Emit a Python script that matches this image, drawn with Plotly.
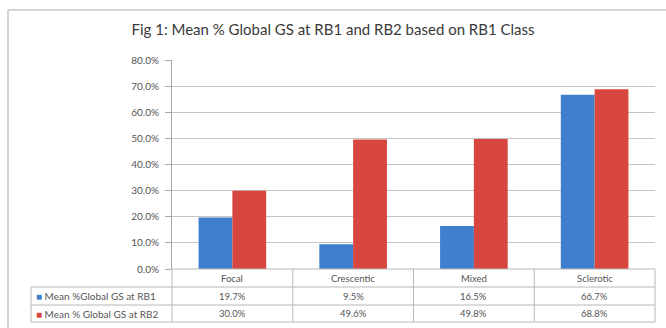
import plotly.graph_objects as go

categories = ["Focal", "Crescentic", "Mixed", "Sclerotic"]
series_names = ["Mean %Global GS at RB1", "Mean % Global GS at RB2"]
rb1_values = [0.197, 0.095, 0.165, 0.667]
rb2_values = [0.300, 0.496, 0.498, 0.688]
colors = ["#3f7fce", "#d8473f"]
title = "Fig 1: Mean % Global GS at RB1 and RB2 based on RB1 Class"

W, H = 666, 328
L, R = 172, 655
T, B = 60, 269
row_h = 18
rows_y = [B, B + row_h, B + 2 * row_h, B + 3 * row_h - 1]
leg_left = 31

def px(x):
    return (x - L) / (R - L)

def py(y):
    return (B - y) / (B - T)

fig = go.Figure()
for name, vals, col in zip(series_names, [rb1_values, rb2_values], colors):
    fig.add_trace(go.Bar(x=categories, y=vals, name=name, marker=dict(color=col, line=dict(width=0))))

font_family = "Lato, Open Sans, sans-serif"
txt_col = "#555555"
line_col = "#b8b8b8"

shapes = []
# outer chart border
shapes.append(dict(type="line", xref="paper", yref="paper", x0=px(8), x1=px(666), y0=py(10), y1=py(10),
                   line=dict(color="#c8c8c8", width=1.5)))
shapes.append(dict(type="line", xref="paper", yref="paper", x0=px(8), x1=px(8), y0=py(10), y1=py(328),
                   line=dict(color="#c8c8c8", width=1.5)))
# table horizontal lines
shapes.append(dict(type="line", xref="paper", yref="paper", x0=px(L), x1=px(R), y0=py(rows_y[0]), y1=py(rows_y[0]),
                   line=dict(color=line_col, width=1)))
for yy in rows_y[1:]:
    shapes.append(dict(type="line", xref="paper", yref="paper", x0=px(leg_left), x1=px(R), y0=py(yy), y1=py(yy),
                       line=dict(color=line_col, width=1)))
# table vertical lines
shapes.append(dict(type="line", xref="paper", yref="paper", x0=px(leg_left), x1=px(leg_left),
                   y0=py(rows_y[1]), y1=py(rows_y[3]), line=dict(color=line_col, width=1)))
n = len(categories)
for i in range(n + 1):
    xx = L + (R - L) * i / n
    shapes.append(dict(type="line", xref="paper", yref="paper", x0=px(xx), x1=px(xx),
                       y0=py(rows_y[0]), y1=py(rows_y[3]), line=dict(color=line_col, width=1)))

annotations = []
for i, c in enumerate(categories):
    annotations.append(dict(x=c, xref="x", y=py((rows_y[0] + rows_y[1]) / 2), yref="paper", text=c,
                            xanchor="center", yanchor="middle", showarrow=False,
                            font=dict(size=9.5, color=txt_col, family=font_family)))
    for r, vals in enumerate([rb1_values, rb2_values]):
        annotations.append(dict(x=c, xref="x", y=py((rows_y[r + 1] + rows_y[r + 2]) / 2), yref="paper",
                                text=f"{vals[i]*100:.1f}%", showarrow=False, xanchor="center", yanchor="middle",
                                font=dict(size=9.5, color=txt_col, family=font_family)))
for r, (name, col) in enumerate(zip(series_names, colors)):
    yc = py((rows_y[r + 1] + rows_y[r + 2]) / 2)
    annotations.append(dict(x=px(leg_left + 3), xref="paper", y=yc, yref="paper", xanchor="left", yanchor="middle",
                            text=f"<span style='color:{col}'>■</span> {name}", showarrow=False,
                            font=dict(size=10, color=txt_col, family=font_family)))

fig.update_layout(
    width=W, height=H,
    margin=dict(l=L, r=W - R, t=T, b=H - B, pad=0),
    paper_bgcolor="white", plot_bgcolor="white",
    showlegend=False,
    barmode="group", bargap=0.44, bargroupgap=0,
    title=dict(text=title, x=0.5, xanchor="center", y=1 - 30 / H, yanchor="middle",
               font=dict(size=15, color="#3a3a3a", family=font_family)),
    xaxis=dict(showticklabels=False, showline=False, showgrid=False, ticks="", range=[-0.5, 3.5]),
    yaxis=dict(range=[0, 0.8], dtick=0.1, tickformat=".1%", showgrid=True, gridcolor="#c4c4c4", gridwidth=1,
               showline=True, linecolor="#a8a8a8", linewidth=1, ticks="outside", ticklen=6, tickcolor="#a8a8a8",
               tickfont=dict(size=10, color=txt_col, family=font_family), zeroline=False,
               ticklabelstandoff=4),
    shapes=shapes, annotations=annotations,
)
fig.write_html("out.html", config={"displayModeBar": False}, post_script="document.body.style.margin='0';")
